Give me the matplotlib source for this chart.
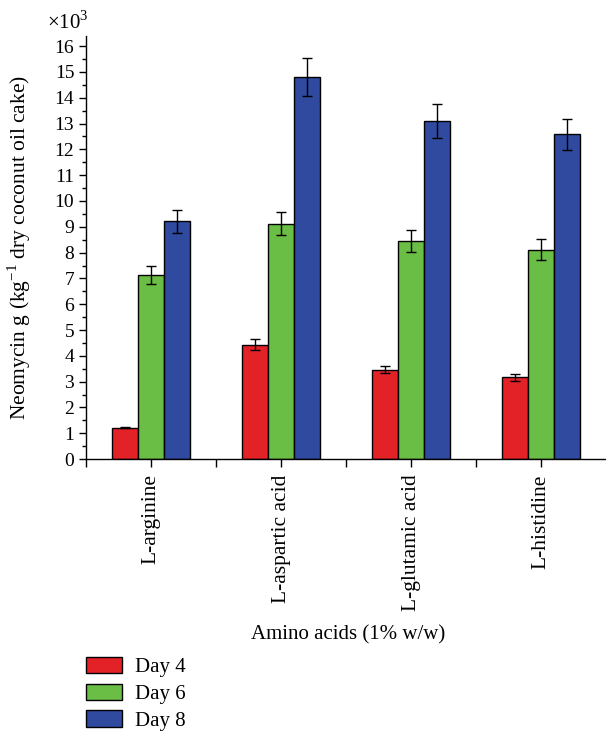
import matplotlib
matplotlib.use("Agg")
import matplotlib.pyplot as plt
import numpy as np
from matplotlib.ticker import MultipleLocator, FixedLocator

plt.rcParams['font.family'] = ['Liberation Serif', 'DejaVu Serif']
plt.rcParams['mathtext.fontset'] = 'custom'
plt.rcParams['mathtext.rm'] = 'Liberation Serif'

categories = ["L-arginine", "L-aspartic acid", "L-glutamic acid", "L-histidine"]
series_names = ["Day 4", "Day 6", "Day 8"]
day4 = [1.22, 4.43, 3.47, 3.17]
day6 = [7.12, 9.12, 8.44, 8.12]
day8 = [9.21, 14.80, 13.10, 12.58]
err4 = [0.03, 0.22, 0.13, 0.13]
err6 = [0.35, 0.44, 0.43, 0.41]
err8 = [0.45, 0.74, 0.67, 0.61]
colors = ["#e32227", "#6abd45", "#2f4a9e"]

fig = plt.figure(figsize=(6.06, 7.31), dpi=100)
ax = fig.add_axes([0.142, 0.372, 0.858, 0.579])

x = np.arange(len(categories))
w = 0.2
for i, (vals, errs) in enumerate(zip([day4, day6, day8], [err4, err6, err8])):
    ax.bar(x + (i - 1) * w, vals, width=w, color=colors[i], edgecolor='black',
           linewidth=1.0, label=series_names[i], zorder=2)
    ax.errorbar(x + (i - 1) * w, vals, yerr=errs, fmt='none', ecolor='black',
                elinewidth=1.0, capsize=3.5, capthick=1.0, zorder=3)

ax.set_xlim(-0.5, 3.5)
ax.set_ylim(0, 16.4)
ax.yaxis.set_major_locator(MultipleLocator(1))
ax.yaxis.set_minor_locator(MultipleLocator(0.5))
ax.set_xticks(x)
ax.set_xticklabels(categories, rotation=90, fontsize=15.5)
ax.xaxis.set_minor_locator(FixedLocator([-0.5, 0.5, 1.5, 2.5]))
ax.tick_params(axis='y', labelsize=14, direction='out', length=5, width=1)
ax.tick_params(axis='y', which='minor', length=3, width=1)
ax.tick_params(axis='x', which='major', length=6, width=1, pad=5)
ax.tick_params(axis='x', which='minor', length=6, width=1)
for s in ['top', 'right']:
    ax.spines[s].set_visible(False)
for s in ['left', 'bottom']:
    ax.spines[s].set_linewidth(1.0)

ax.set_ylabel("Neomycin g (kg$^{-1}$ dry coconut oil cake)", fontsize=15.5)
ax.yaxis.set_label_coords(-0.102, 0.5)
ax.set_xlabel("Amino acids (1% w/w)", fontsize=15)
ax.xaxis.set_label_coords(0.504, -0.393)
ax.text(-0.035, 1.005, r"$\times10^3$", transform=ax.transAxes, fontsize=15,
        ha='center', va='bottom')

handles, labels = ax.get_legend_handles_labels()
fig.legend(handles, labels, loc='upper left', bbox_to_anchor=(0.128, 0.113),
           frameon=False, fontsize=15, handlelength=1.75, handleheight=0.85,
           labelspacing=0.3, handletextpad=0.6, borderaxespad=0)

fig.savefig("out.png", dpi=100)
